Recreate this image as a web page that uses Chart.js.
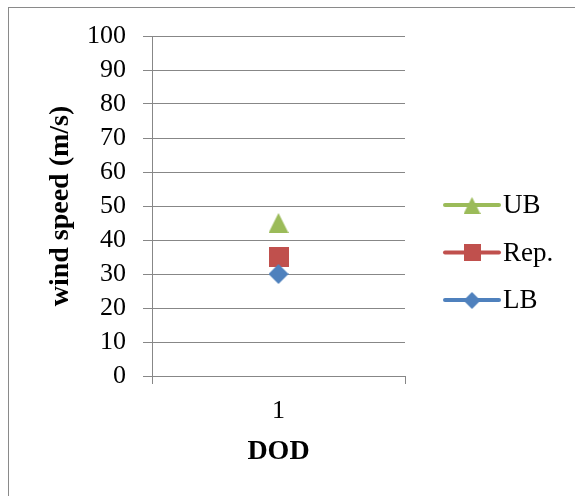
<!DOCTYPE html>
<html>
<head>
<meta charset="utf-8">
<script src="https://cdn.jsdelivr.net/npm/chart.js@4/dist/chart.umd.min.js"></script>
<style>
    html, body { margin: 0; padding: 0; background: #ffffff; }
</style>
</head>
<body>
<canvas id="grafico" width="575" height="496"></canvas>
<script>
// dados do grafico
const categorias = ['1'];
const nomesSeries = ['UB', 'Rep.', 'LB'];
const valoresUB = [45];
const valoresRep = [35];
const valoresLB = [30];
const eixoYMin = 0;
const eixoYMax = 100;
const eixoYPasso = 10;

const corUB = '#9BBB59';
const corRep = '#C0504D';
const corLB = '#4F81BD';
const corLinhas = '#878787';
const fonte = 'Liberation Serif';

// desenha o marcador num canvas pequeno (estilo Excel)
function marcador(tipo, cor, tam) {
    const c = document.createElement('canvas');
    c.width = tam;
    c.height = tam;
    const ctx = c.getContext('2d');
    ctx.fillStyle = cor;
    ctx.beginPath();
    if (tipo === 'triangle') {
        ctx.moveTo(tam / 2, 0);
        ctx.lineTo(tam, tam);
        ctx.lineTo(0, tam);
    } else if (tipo === 'rect') {
        ctx.rect(0, 0, tam, tam);
    } else {
        ctx.moveTo(tam / 2, 0);
        ctx.lineTo(tam, tam / 2);
        ctx.lineTo(tam / 2, tam);
        ctx.lineTo(0, tam / 2);
    }
    ctx.closePath();
    ctx.fill();
    return c;
}

const series = [
    { nome: nomesSeries[0], dados: valoresUB, cor: corUB, tipo: 'triangle', ordem: 2 },
    { nome: nomesSeries[1], dados: valoresRep, cor: corRep, tipo: 'rect', ordem: 1 },
    { nome: nomesSeries[2], dados: valoresLB, cor: corLB, tipo: 'diamond', ordem: 0 }
];

// moldura externa + legenda (linha com marcador, como no Excel)
const pluginMolduraLegenda = {
    id: 'molduraLegenda',
    beforeDraw(chart) {
        const ctx = chart.ctx;
        ctx.save();
        ctx.strokeStyle = '#8a8a8a';
        ctx.lineWidth = 1;
        ctx.strokeRect(8.5, 7.5, 700, 700);
        ctx.restore();
    },
    afterDraw(chart) {
        const ctx = chart.ctx;
        ctx.save();
        chart.data.datasets.forEach((ds, i) => {
            const y = 205 + i * 47.5;
            ctx.strokeStyle = ds.borderColor;
            ctx.lineWidth = 4;
            ctx.lineCap = 'round';
            ctx.beginPath();
            ctx.moveTo(445, y);
            ctx.lineTo(499, y);
            ctx.stroke();
            const img = ds.marcadorLegenda;
            ctx.drawImage(img, 472 - img.width / 2, Math.round(y - img.height / 2));
            ctx.fillStyle = '#000000';
            ctx.font = '27px "' + fonte + '"';
            ctx.textBaseline = 'middle';
            ctx.textAlign = 'left';
            ctx.fillText(ds.label, 503, y + 1);
        });
        ctx.restore();
    }
};

const dados = {
    labels: categorias,
    datasets: series.map(s => ({
        label: s.nome,
        data: s.dados,
        order: s.ordem,
        showLine: false,
        borderColor: s.cor,
        backgroundColor: s.cor,
        pointStyle: marcador(s.tipo, s.cor, 20),
        pointRadius: 10,
        marcadorLegenda: marcador(s.tipo, s.cor, 17)
    }))
};

const config = {
    type: 'line',
    data: dados,
    plugins: [pluginMolduraLegenda],
    options: {
        responsive: false,
        animation: false,
        layout: { padding: { top: 36, right: 170, left: 0, bottom: 0 } },
        plugins: {
            legend: { display: false },
            tooltip: { enabled: false }
        },
        scales: {
            x: {
                offset: true,
                afterFit: s => { s.height = 120; },
                grid: {
                    offset: true,
                    drawOnChartArea: false,
                    drawTicks: true,
                    tickLength: 8,
                    color: corLinhas
                },
                border: { display: true, color: corLinhas },
                ticks: {
                    color: '#000000',
                    padding: 12,
                    font: { family: fonte, size: 26 }
                },
                title: {
                    display: true,
                    text: 'DOD',
                    color: '#000000',
                    padding: { top: 0, bottom: 27 },
                    font: { family: fonte, size: 28, weight: 'bold' }
                }
            },
            y: {
                min: eixoYMin,
                max: eixoYMax,
                afterFit: s => { s.width = 152; },
                grid: {
                    color: corLinhas,
                    tickLength: 9
                },
                border: { display: true, color: corLinhas },
                ticks: {
                    stepSize: eixoYPasso,
                    autoSkip: false,
                    color: '#000000',
                    padding: 17,
                    font: { family: fonte, size: 26 }
                },
                title: {
                    display: true,
                    text: 'wind speed (m/s)',
                    color: '#000000',
                    padding: { top: 44, bottom: 0 },
                    font: { family: fonte, size: 28, weight: 'bold' }
                }
            }
        }
    }
};

const grafico = new Chart(document.getElementById('grafico'), config);
</script>
</body>
</html>
